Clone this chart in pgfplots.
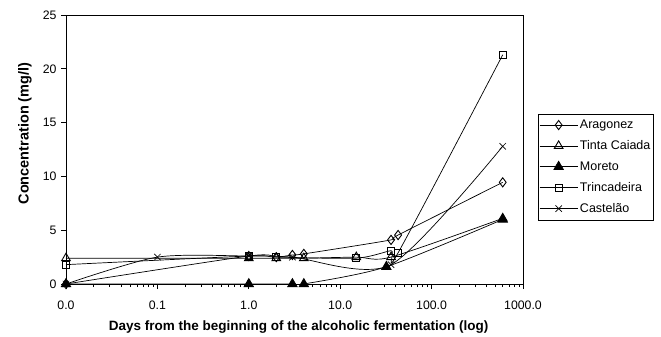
\documentclass[border=0pt]{standalone}
\usepackage{pgfplots}
\pgfplotsset{compat=1.18}
\usepackage{fontspec}
\setmainfont{Liberation Sans}
\begin{document}
\begin{tikzpicture}
\useasboundingbox (-66pt,-53pt) rectangle (595pt,284pt);
\begin{axis}[
  scale only axis, width=457pt, height=269pt,
  at={(0,0)}, anchor=south west,
  xmode=log, xmin=0.01, xmax=1000, ymin=0, ymax=25,
  xtick={0.01,0.1,1,10,100,1000},
  xticklabels={0.0,0.1,1.0,10.0,100.0,1000.0},
  ytick={0,5,10,15,20,25},
  /pgf/number format/assume math mode=true,
  tick label style={font=\fontsize{12.3}{14}\selectfont},
  xticklabel style={yshift=-8pt},
  yticklabel style={xshift=-1pt},
  xtick pos=bottom, ytick pos=left, tick align=outside,
  major tick length=5pt, minor tick length=3pt,
  axis line style={line width=0.8pt},
  every tick/.style={black, line width=0.6pt},
  xlabel={\bfseries Days from the beginning of the alcoholic fermentation (log)},
  ylabel={\bfseries Concentration (mg/l)},
  label style={font=\fontsize{13.5}{15}\selectfont},
  xlabel style={at={(axis description cs:0.509,-0.16)}, anchor=center},
  ylabel style={at={(axis description cs:-0.0897,0.5595)}, anchor=center, font=\fontsize{14.5}{16}\selectfont},
  legend style={at={(1.0328,0.633)}, anchor=north west, draw=black, line width=0.6pt,
    font=\fontsize{12.5}{14}\selectfont, row sep=6.5pt, inner xsep=1pt, inner ysep=4pt,
    nodes={inner xsep=2pt}},
  legend cell align=left,
  legend image code/.code={
    \draw[mark repeat=2,mark phase=2] plot coordinates {(0pt,0pt) (19pt,0pt) (38pt,0pt)};},
  every axis plot/.append style={black, line width=0.7pt, smooth, tension=0.45},
]
\addplot[mark=diamond, mark size=4.6pt, mark options={fill=white, solid, line width=0.9pt}] coordinates {
 (0.01,0) (1,2.6) (2,2.5) (3,2.7) (4,2.8) (36,4.1) (43,4.55) (600,9.45)};
\addlegendentry{Aragonez}
\addplot[mark=triangle, mark size=5pt, mark options={fill=white, solid, line width=0.9pt}] coordinates {
 (0.01,2.4) (1,2.4) (2,2.4) (4,2.4) (15,2.5) (36,2.5) (600,6.1)};
\addlegendentry{Tinta Caiada}
\addplot[mark=triangle*, mark size=5.5pt, mark options={fill=black, solid}] coordinates {
 (0.01,0) (1,0) (3,0) (4,0) (32,1.6) (600,6.0)};
\addlegendentry{Moreto}
\addplot[mark=square, mark size=3.5pt, mark options={fill=white, solid, line width=0.9pt}] coordinates {
 (0.01,1.8) (1,2.6) (2,2.5) (15,2.4) (36,3.1) (43,2.9) (600,21.3)};
\addlegendentry{Trincadeira}
\addplot[mark=x, mark size=4.5pt, mark options={solid, line width=0.7pt}] coordinates {
 (0.01,0) (0.1,2.5) (1,2.6) (3,2.5) (36,1.8) (600,12.8)};
\addlegendentry{Castel\~ao}
\end{axis}
\end{tikzpicture}
\end{document}
